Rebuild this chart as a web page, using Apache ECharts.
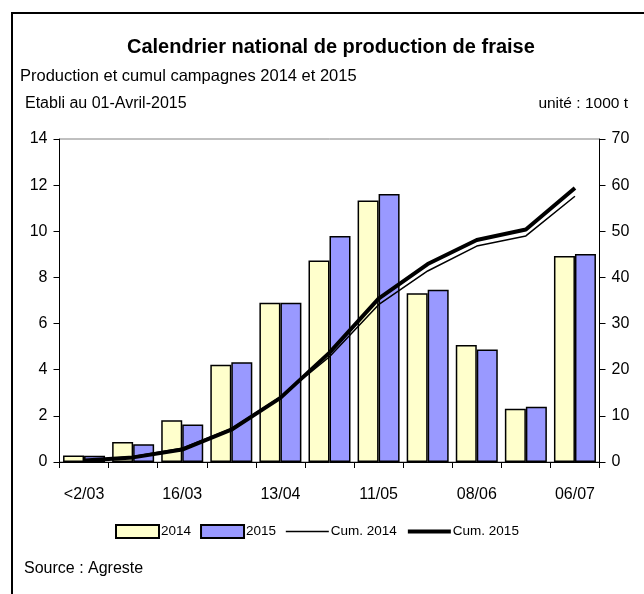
<!DOCTYPE html>
<html>
<head>
<meta charset="utf-8">
<script src="https://cdn.jsdelivr.net/npm/echarts@6/dist/echarts.min.js"></script>
<style>
html,body{margin:0;padding:0;background:#fff;}
#c{width:644px;height:594px;}
</style>
</head>
<body>
<div id="c"></div>
<script>
var categories = ['<2/03','02/03','16/03','30/03','13/04','27/04','11/05','25/05','08/06','22/06','06/07'];
var prod2014 = [0.28, 0.87, 1.81, 4.22, 6.9, 8.73, 11.33, 7.31, 5.07, 2.31, 8.93];
var prod2015 = [0.27, 0.77, 1.63, 4.32, 6.9, 9.8, 11.62, 7.47, 4.88, 2.40, 9.02];
var cum2014 = [0.3, 1.2, 3.0, 7.2, 14.1, 22.8, 34.1, 41.4, 46.8, 49.0, 57.6];
var cum2015 = [0.3, 1.0, 2.7, 7.0, 13.9, 23.7, 35.4, 42.9, 48.1, 50.4, 59.4];
var leftTicks = {min: 0, max: 14, interval: 2};
var rightTicks = {min: 0, max: 70, interval: 10};

var FONT = "'Liberation Sans', Arial, sans-serif";
var chart = echarts.init(document.getElementById('c'), null, {renderer: 'canvas'});
var option = {
  backgroundColor: '#ffffff',
  animation: false,
  textStyle: {fontFamily: FONT, color: '#000'},
  title: [
    {text: 'Calendrier national de production de fraise', left: 127, top: 37, padding: 0,
     textStyle: {fontFamily: FONT, fontSize: 20, fontWeight: 'bold', color: '#000'}},
    {text: 'Production et cumul campagnes 2014 et 2015', left: 20, top: 68, padding: 0,
     textStyle: {fontFamily: FONT, fontSize: 16.5, fontWeight: 'normal', color: '#000'}},
    {text: 'Etabli au 01-Avril-2015', left: 25, top: 96, padding: 0,
     textStyle: {fontFamily: FONT, fontSize: 16, fontWeight: 'normal', color: '#000'}},
    {text: 'unité : 1000 t', right: 16, top: 96, padding: 0,
     textStyle: {fontFamily: FONT, fontSize: 15.5, fontWeight: 'normal', color: '#000'}},
    {text: 'Source : Agreste', left: 24, top: 561, padding: 0,
     textStyle: {fontFamily: FONT, fontSize: 16, fontWeight: 'normal', color: '#000'}}
  ],
  graphic: [
    {type: 'rect', shape: {x: 12, y: 13, width: 700, height: 700},
     style: {fill: null, stroke: '#000', lineWidth: 2}, silent: true}
  ],
  legend: {
    left: 115, top: 524, padding: 0, itemWidth: 43, itemHeight: 13, itemGap: 9,
    textStyle: {fontFamily: FONT, fontSize: 13.5, color: '#000', padding: [0, 0, 0, -3]},
    data: [
      {name: '2014', icon: 'rect'},
      {name: '2015', icon: 'rect'},
      {name: 'Cum. 2014', itemStyle: {opacity: 0}, lineStyle: {width: 1.5, color: '#000'}},
      {name: 'Cum. 2015', itemStyle: {opacity: 0}, lineStyle: {width: 4, color: '#000'}}
    ]
  },
  grid: {left: 59.5, right: 44.5, top: 139, bottom: 132, show: true,
         borderColor: '#808080', borderWidth: 1, backgroundColor: 'transparent'},
  xAxis: {
    type: 'category', data: categories, boundaryGap: true,
    axisLine: {lineStyle: {color: '#000', width: 1}},
    axisTick: {show: true, interval: 0, length: 6, alignWithLabel: false, lineStyle: {color: '#000'}},
    axisLabel: {interval: 1, margin: 25, fontSize: 16, fontFamily: FONT, color: '#000'},
    splitLine: {show: false}
  },
  yAxis: [
    {type: 'value', min: leftTicks.min, max: leftTicks.max, interval: leftTicks.interval, position: 'left',
     axisLine: {show: true, lineStyle: {color: '#000'}},
     axisTick: {show: true, length: 6, lineStyle: {color: '#000'}},
     axisLabel: {margin: 12, fontSize: 16, fontFamily: FONT, color: '#000'},
     splitLine: {show: false}},
    {type: 'value', min: rightTicks.min, max: rightTicks.max, interval: rightTicks.interval, position: 'right',
     axisLine: {show: true, lineStyle: {color: '#000'}},
     axisTick: {show: true, length: 6, lineStyle: {color: '#000'}},
     axisLabel: {margin: 12, fontSize: 16, fontFamily: FONT, color: '#000'},
     splitLine: {show: false}}
  ],
  series: [
    {name: '2014', type: 'bar', data: prod2014, yAxisIndex: 0, barWidth: 21, barGap: '0%',
     itemStyle: {color: '#FFFFCC', borderColor: '#000', borderWidth: 1.5}},
    {name: '2015', type: 'bar', data: prod2015, yAxisIndex: 0, barWidth: 21, barGap: '0%',
     itemStyle: {color: '#9999FF', borderColor: '#000', borderWidth: 1.5}},
    {name: 'Cum. 2014', type: 'line', data: cum2014, yAxisIndex: 1, symbol: 'none', z: 5,
     lineStyle: {color: '#000', width: 1.5}, itemStyle: {color: '#000'}},
    {name: 'Cum. 2015', type: 'line', data: cum2015, yAxisIndex: 1, symbol: 'none', z: 6,
     lineStyle: {color: '#000', width: 4}, itemStyle: {color: '#000'}}
  ]
};
chart.setOption(option);
</script>
</body>
</html>
